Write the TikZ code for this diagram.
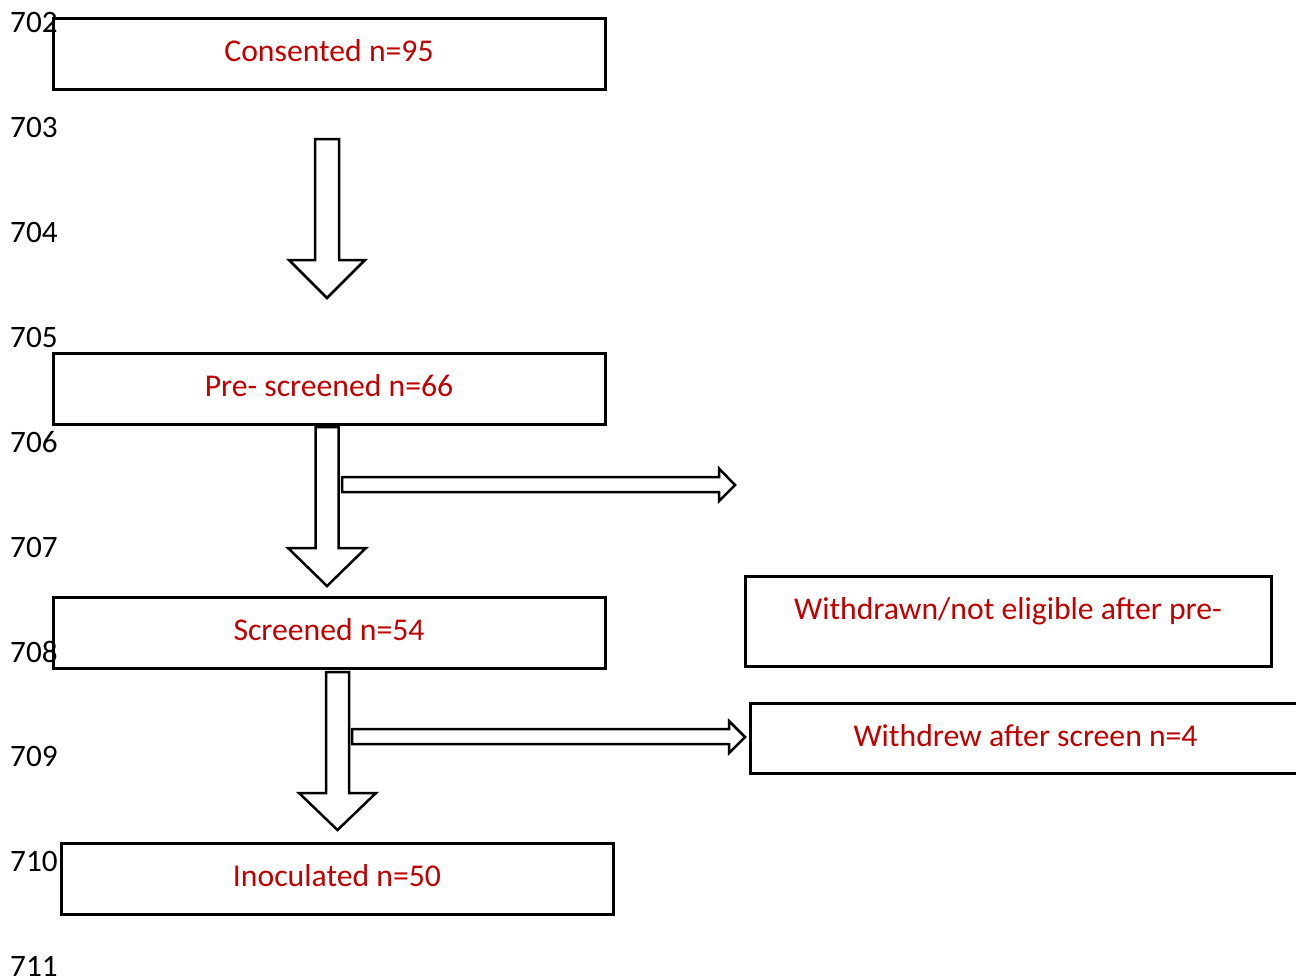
\documentclass[tikz,border=0pt]{standalone}
\usepackage{fontspec}
\setmainfont{Carlito}
\definecolor{lblred}{RGB}{192,0,0}
\begin{document}
\begin{tikzpicture}[x=1pt,y=-1pt,
  box/.style={draw=black,line width=3pt,rectangle,inner sep=0pt},
  lbl/.style={text=lblred,inner sep=0pt,anchor=base,font=\fontsize{31.7}{38}\selectfont},
  num/.style={text=black,inner sep=0pt,anchor=base west,font=\fontsize{31.2}{38}\selectfont},
  blockarrow/.style={draw=black,fill=white,line width=2.5pt,line join=miter}]
\useasboundingbox (0,0) rectangle (1296,978);
\clip (0,0) rectangle (1296,978);
\fill[white] (0,0) rectangle (1296,978);
% boxes
\node[box,minimum width=552pt,minimum height=71pt] (b1) at (329,53.5) {};
\node[box,minimum width=552pt,minimum height=71pt] (b2) at (329,388.5) {};
\node[box,minimum width=552pt,minimum height=71pt] (b3) at (329,632.5) {};
\node[box,minimum width=552pt,minimum height=71pt] (b4) at (337,878.5) {};
\node[box,minimum width=526pt,minimum height=90pt] (wd) at (1008,621) {};
\node[box,minimum width=551pt,minimum height=70pt] (ws) at (1025.5,738) {};
% line numbers
\foreach \n/\y in {702/32,703/137,704/242,705/347,706/452,707/557,708/662,709/766,710/871,711/976}
  \node[num] (ln\n) at (10,\y) {\n};
% labels
\node[lbl] (t1) at (329,61) {Consented n=95};
\node[lbl] (t2) at (329,396) {Pre- screened n=66};
\node[lbl] (t3) at (329,640) {Screened n=54};
\node[lbl] (t4) at (337,886) {Inoculated n=50};
\node[lbl] (t5) at (1008,619) {Withdrawn/not eligible after pre-};
\node[lbl] (t6) at (1025.5,746) {Withdrew after screen n=4};
% block arrows
\draw[blockarrow] (315,139) -- (339,139) -- (339,260) -- (365,260) -- (327,298) -- (289,260) -- (315,260) -- cycle;
\draw[blockarrow] (315.5,427) -- (338.5,427) -- (338.5,548) -- (366,548) -- (327,586) -- (288,548) -- (315.5,548) -- cycle;
\draw[blockarrow] (342,477) -- (719,477) -- (719,468.5) -- (735,485) -- (719,501) -- (719,492) -- (342,492) -- cycle;
\draw[blockarrow] (326,672) -- (349,672) -- (349,793) -- (376,793) -- (337.5,830) -- (299,793) -- (326,793) -- cycle;
\draw[blockarrow] (352,729) -- (729,729) -- (729,721) -- (745,737) -- (729,753) -- (729,744) -- (352,744) -- cycle;
\end{tikzpicture}
\end{document}
